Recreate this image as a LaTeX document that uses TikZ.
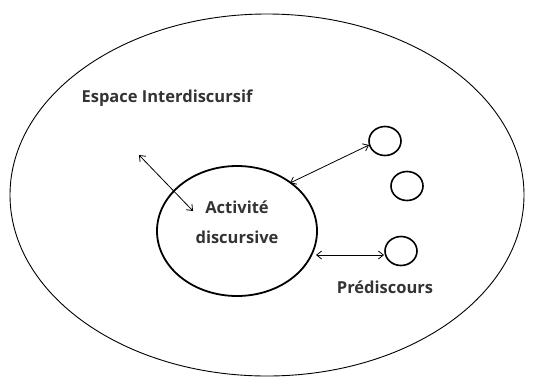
\documentclass[tikz,border=0pt]{standalone}
\usepackage{fontspec}
\setmainfont{Open Sans}
\usetikzlibrary{arrows.meta}
\begin{document}
\begin{tikzpicture}[x=1pt,y=-1pt,
  lbl/.style={font=\bfseries\fontsize{16.5}{30}\selectfont, text=black!80, inner sep=0pt, align=center},
  link/.style={line width=0.8pt, {Straight Barb[length=5pt,width=8pt]}-{Straight Barb[length=5pt,width=8pt]}}
]
\useasboundingbox (0,0) rectangle (534,378);
\draw[line width=0.9pt] (267,195) ellipse [x radius=257, y radius=181];
\draw[line width=1.8pt] (237,231) ellipse [x radius=80, y radius=65];
\draw[line width=1.6pt] (385,141) circle [x radius=16, y radius=14.5];
\draw[line width=1.6pt] (407,186) circle [x radius=16, y radius=14.5];
\draw[line width=1.6pt] (401,251) circle [x radius=16, y radius=14.5];
\node[lbl] (esp) at (167,98) {Espace Interdiscursif};
\node[lbl] (ad) at (237,222) {Activité\\discursive};
\node[lbl] (pre) at (385,287) {Prédiscours};
\coordinate (a1s) at (139,155);
\coordinate (a1e) at (193,211);
\coordinate (a2s) at (290,183);
\coordinate (a2e) at (369,145);
\coordinate (a3s) at (316,255);
\coordinate (a3e) at (384,255);
\draw[link] (a1s) -- (a1e);
\draw[link] (a2s) -- (a2e);
\draw[link] (a3s) -- (a3e);
\end{tikzpicture}
\end{document}
